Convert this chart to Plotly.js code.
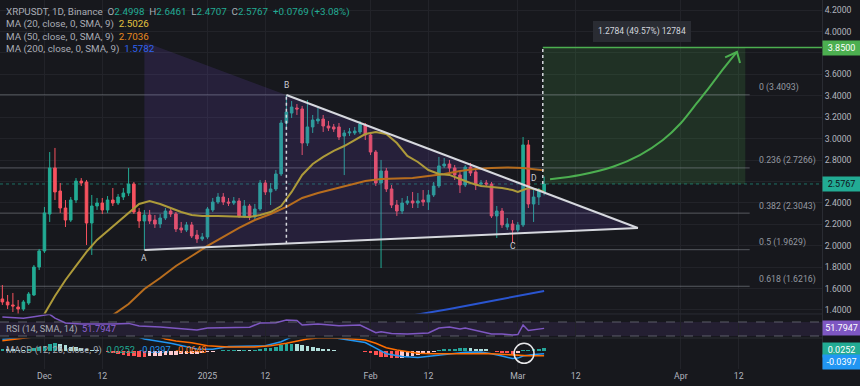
<!DOCTYPE html>
<html><head><meta charset="utf-8">
<script src="https://cdn.plot.ly/plotly-3.0.1.min.js"></script>
<style>body{margin:0;background:#17181d}#chart{width:860px;height:386px}</style>
</head><body><div id="chart"></div>
<script>
// ---------- candle data (XRPUSDT, 1D) ----------
const dates = ['2024-11-23','2024-11-24','2024-11-25','2024-11-26','2024-11-27','2024-11-28','2024-11-29','2024-11-30',
'2024-12-01','2024-12-02','2024-12-03','2024-12-04','2024-12-05','2024-12-06','2024-12-07','2024-12-08','2024-12-09','2024-12-10',
'2024-12-11','2024-12-12','2024-12-13','2024-12-14','2024-12-15','2024-12-16','2024-12-17','2024-12-18','2024-12-19','2024-12-20',
'2024-12-21','2024-12-22','2024-12-23','2024-12-24','2024-12-25','2024-12-26','2024-12-27','2024-12-28','2024-12-29','2024-12-30','2024-12-31',
'2025-01-01','2025-01-02','2025-01-03','2025-01-04','2025-01-05','2025-01-06','2025-01-07','2025-01-08','2025-01-09','2025-01-10',
'2025-01-11','2025-01-12','2025-01-13','2025-01-14','2025-01-15','2025-01-16','2025-01-17','2025-01-18','2025-01-19','2025-01-20',
'2025-01-21','2025-01-22','2025-01-23','2025-01-24','2025-01-25','2025-01-26','2025-01-27','2025-01-28','2025-01-29','2025-01-30','2025-01-31',
'2025-02-01','2025-02-02','2025-02-03','2025-02-04','2025-02-05','2025-02-06','2025-02-07','2025-02-08','2025-02-09','2025-02-10',
'2025-02-11','2025-02-12','2025-02-13','2025-02-14','2025-02-15','2025-02-16','2025-02-17','2025-02-18','2025-02-19','2025-02-20',
'2025-02-21','2025-02-22','2025-02-23','2025-02-24','2025-02-25','2025-02-26','2025-02-27','2025-02-28',
'2025-03-01','2025-03-02','2025-03-03','2025-03-04','2025-03-05','2025-03-06'];

const openP = [1.503,1.475,1.447,1.428,1.409,1.465,1.540,1.801,
1.951,2.296,2.726,2.511,2.352,2.240,2.427,2.604,2.595,2.212,2.371,2.399,2.334,2.427,2.399,2.455,2.492,2.576,2.315,2.231,2.287,2.240,2.203,2.259,2.324,2.296,2.166,2.147,2.194,2.100,2.063,
2.082,2.334,2.408,2.455,2.408,2.399,2.418,2.278,2.371,2.268,2.343,2.586,2.502,2.530,2.670,3.146,3.239,3.286,3.277,2.959,3.109,3.165,3.183,3.118,3.109,3.109,3.025,3.053,3.053,3.062,3.127,
3.034,2.875,2.586,2.698,2.530,2.380,2.324,2.399,2.418,2.399,2.427,2.408,2.474,2.558,2.745,2.763,2.726,2.661,2.567,2.735,2.689,2.576,2.586,2.576,2.278,2.324,2.175,2.203,
2.147,2.194,2.941,2.390,2.455,2.4998];
const highP = [1.633,1.540,1.559,1.493,1.493,1.568,1.820,1.970,
2.362,2.875,2.913,2.586,2.427,2.455,2.632,2.632,2.614,2.474,2.446,2.446,2.464,2.539,2.483,2.539,2.726,2.595,2.352,2.334,2.334,2.287,2.296,2.352,2.352,2.315,2.222,2.222,2.222,2.147,2.119,
2.362,2.446,2.492,2.492,2.446,2.455,2.446,2.427,2.390,2.390,2.614,2.614,2.586,2.707,3.174,3.407,3.351,3.323,3.305,3.361,3.221,3.286,3.221,3.165,3.137,3.146,3.081,3.099,3.109,3.165,3.146,
3.053,2.894,2.801,2.726,2.567,2.427,2.446,2.464,2.502,2.492,2.520,2.520,2.595,2.829,2.819,2.801,2.754,2.689,2.754,2.773,2.707,2.614,2.614,2.595,2.371,2.352,2.259,2.240,
2.222,3.015,2.987,2.539,2.539,2.6461];
const lowP = [1.447,1.409,1.381,1.363,1.391,1.447,1.531,1.773,
1.932,2.222,2.427,2.306,2.175,2.222,2.399,2.558,2.007,1.914,2.334,2.296,2.306,2.371,2.380,2.427,2.464,2.296,2.166,1.960,2.203,2.166,2.166,2.240,2.268,2.128,2.119,2.128,2.072,2.026,2.044,
2.063,2.315,2.390,2.380,2.371,2.380,2.259,2.259,2.240,2.240,2.324,2.474,2.380,2.511,2.651,3.081,3.193,3.221,2.847,2.931,3.053,3.137,3.062,3.071,3.062,2.987,2.660,3.025,3.034,3.043,2.987,
2.847,2.558,1.792,2.502,2.352,2.278,2.296,2.380,2.352,2.352,2.371,2.334,2.455,2.539,2.726,2.689,2.614,2.492,2.548,2.651,2.520,2.558,2.548,2.259,2.072,2.166,2.147,2.026,
2.128,2.175,2.352,2.222,2.380,2.4707];
const closeP = [1.475,1.447,1.437,1.409,1.475,1.549,1.801,1.951,
2.306,2.726,2.502,2.352,2.240,2.427,2.604,2.586,2.212,2.371,2.399,2.334,2.427,2.399,2.455,2.492,2.576,2.315,2.231,2.287,2.231,2.203,2.259,2.324,2.296,2.156,2.147,2.194,2.091,2.063,2.082,
2.343,2.408,2.455,2.408,2.399,2.418,2.278,2.371,2.268,2.343,2.586,2.502,2.530,2.670,3.146,3.249,3.295,3.277,2.959,3.109,3.174,3.183,3.118,3.099,3.090,3.015,3.053,3.062,3.071,3.137,3.034,
2.875,2.586,2.698,2.530,2.380,2.324,2.399,2.418,2.399,2.418,2.408,2.474,2.558,2.745,2.763,2.726,2.661,2.567,2.735,2.679,2.567,2.586,2.576,2.278,2.324,2.194,2.203,2.147,
2.194,2.941,2.390,2.455,2.520,2.5767];

// ---------- moving averages ----------
const ma20Dates = ['2024-11-30','2024-12-01','2024-12-03','2024-12-05','2024-12-07','2024-12-09','2024-12-11','2024-12-13','2024-12-15','2024-12-17','2024-12-19','2024-12-21','2024-12-23','2024-12-25','2024-12-27','2024-12-29','2024-12-31','2025-01-03','2025-01-06','2025-01-09','2025-01-11','2025-01-13','2025-01-15','2025-01-17','2025-01-19','2025-01-21','2025-01-23','2025-01-25','2025-01-27','2025-01-29','2025-01-31','2025-02-02','2025-02-04','2025-02-06','2025-02-08','2025-02-10','2025-02-12','2025-02-14','2025-02-16','2025-02-18','2025-02-20','2025-02-22','2025-02-24','2025-02-26','2025-02-28','2025-03-01','2025-03-02','2025-03-03','2025-03-04','2025-03-05','2025-03-06'];
const ma20Vals = [1.251,1.363,1.531,1.680,1.811,1.942,2.054,2.138,2.222,2.315,2.390,2.418,2.390,2.352,2.315,2.287,2.278,2.278,2.273,2.268,2.287,2.315,2.371,2.502,2.661,2.763,2.829,2.885,2.931,2.987,3.043,3.062,3.043,2.959,2.838,2.782,2.707,2.670,2.661,2.623,2.586,2.558,2.548,2.539,2.520,2.502,2.520,2.539,2.530,2.520,2.5026];
const ma50Dates = ['2024-12-11','2024-12-14','2024-12-17','2024-12-20','2024-12-23','2024-12-26','2024-12-29','2025-01-01','2025-01-04','2025-01-07','2025-01-10','2025-01-13','2025-01-16','2025-01-19','2025-01-22','2025-01-25','2025-01-28','2025-01-31','2025-02-03','2025-02-06','2025-02-09','2025-02-12','2025-02-15','2025-02-18','2025-02-21','2025-02-24','2025-02-27','2025-03-02','2025-03-06'];
const ma50Vals = [1.241,1.353,1.456,1.596,1.699,1.811,1.904,1.998,2.082,2.166,2.240,2.296,2.362,2.446,2.492,2.530,2.567,2.604,2.623,2.628,2.632,2.651,2.670,2.698,2.717,2.726,2.731,2.726,2.7036];
const ma200Dates = ['2025-02-05','2025-02-09','2025-02-16','2025-02-23','2025-03-01','2025-03-06'];
const ma200Vals = [1.316,1.349,1.409,1.475,1.531,1.5782];

// ---------- RSI ----------
const rsiDates = ['2024-11-23','2024-11-25','2024-11-27','2024-11-29','2024-11-30','2024-12-02','2024-12-03','2024-12-05','2024-12-08','2024-12-11','2024-12-14','2024-12-17','2024-12-19','2024-12-23','2024-12-26','2024-12-30','2025-01-01','2025-01-05','2025-01-09','2025-01-11','2025-01-14','2025-01-16','2025-01-18','2025-01-19','2025-01-22','2025-01-26','2025-01-30','2025-02-02','2025-02-03','2025-02-05','2025-02-08','2025-02-12','2025-02-14','2025-02-16','2025-02-18','2025-02-19','2025-02-21','2025-02-24','2025-02-26','2025-02-28','2025-03-01','2025-03-02','2025-03-03','2025-03-05','2025-03-06'];
const rsiVals = [84,83,81,85,87,92,81,67,64,63,64,66,58.6,55.7,51.4,47.1,52.9,54.9,54.9,67.1,68,75.7,74.3,61.4,64.3,59.4,61.4,39.4,42.3,37.1,35.7,38.6,52.9,55.7,50,52.9,45.7,35.7,35.7,32.9,34.3,61.4,45.7,48.6,51.7947];

// ---------- MACD ----------
const macdDates = ['2024-11-23','2024-11-27','2024-12-01','2024-12-05','2024-12-10','2024-12-15','2024-12-20','2024-12-25','2024-12-30','2025-01-02','2025-01-05','2025-01-10','2025-01-12','2025-01-15','2025-01-17','2025-01-20','2025-01-23','2025-01-26','2025-01-28','2025-01-31','2025-02-02','2025-02-04','2025-02-07','2025-02-10','2025-02-13','2025-02-16','2025-02-19','2025-02-22','2025-02-24','2025-02-26','2025-02-28','2025-03-01','2025-03-02','2025-03-04','2025-03-06'];
const macdVals = [0.14,0.16,0.22,0.33,0.33,0.25,0.144,0.09,0.02,0.015,0.05,0.055,0.06,0.11,0.17,0.2,0.185,0.15,0.13,0.1,0.03,-0.04,-0.075,-0.088,-0.065,-0.045,-0.022,-0.02,-0.04,-0.07,-0.1,-0.095,-0.07,-0.05,-0.0397];
const signalDates = ['2024-11-23','2024-11-26','2024-11-29','2024-12-03','2024-12-08','2024-12-14','2024-12-19','2024-12-22','2024-12-24','2024-12-26','2024-12-29','2025-01-01','2025-01-05','2025-01-10','2025-01-13','2025-01-16','2025-01-18','2025-01-20','2025-01-22','2025-01-24','2025-01-26','2025-01-28','2025-01-31','2025-02-02','2025-02-04','2025-02-06','2025-02-08','2025-02-10','2025-02-13','2025-02-17','2025-02-20','2025-02-23','2025-02-26','2025-02-28','2025-03-01','2025-03-03','2025-03-06'];
const signalVals = [0.122,0.142,0.17,0.22,0.28,0.29,0.24,0.19,0.144,0.12,0.0975,0.06,0.045,0.045,0.06,0.09,0.12,0.144,0.155,0.16,0.157,0.148,0.131,0.09,0.035,0.005,-0.018,-0.035,-0.042,-0.045,-0.042,-0.036,-0.045,-0.055,-0.06,-0.066,-0.0648];
const histVals = [0.02,0.018,0.015,0.012,0.01,0.015,0.03,0.045,
0.06,0.085,0.09,0.08,0.065,0.05,0.045,0.035,0.02,0.01,0.005,-0.01,-0.02,-0.03,-0.045,-0.055,-0.065,-0.07,-0.075,-0.078,-0.074,-0.07,-0.065,-0.06,-0.055,-0.05,-0.047,-0.045,-0.042,-0.04,-0.03,
-0.022,-0.015,-0.006,0.004,0.006,0.008,0.006,0.008,0.006,0.009,0.022,0.028,0.034,0.045,0.065,0.08,0.085,0.078,0.065,0.055,0.045,0.035,0.025,0.015,0.006,-0.006,-0.01,-0.012,-0.012,-0.01,-0.02,
-0.035,-0.06,-0.075,-0.085,-0.095,-0.097,-0.088,-0.078,-0.066,-0.052,-0.04,-0.03,-0.018,0.005,0.014,0.02,0.024,0.026,0.03,0.028,0.024,0.02,0.014,-0.01,-0.02,-0.03,-0.036,-0.042,
-0.032,0.004,0.012,0.017,0.021,0.0252];

// ---------- drawings ----------
const fibLevels = ['0','0.236','0.382','0.5','0.618'];
const fibPrices = [3.4093,2.7266,2.3043,1.9629,1.6216];
const pointA = ['2024-12-20',1.960], pointB = ['2025-01-16',3.407], apex = ['2025-03-23 20:00',2.166];
const triTopLeft = ['2024-12-20',3.902];
const lastPrice = 2.5767, targetPrice = 3.85;
const targetStart = '2025-03-05 18:00', targetEnd = '2025-04-13 06:00';
const arrowX = ['2025-03-07 03:00','2025-03-12 20:00','2025-03-19 02:00','2025-03-24 05:00','2025-03-28 14:00','2025-04-01 00:30','2025-04-04 01:30','2025-04-06 08:00','2025-04-08 10:00','2025-04-10 03:00','2025-04-11 16:00'];
const arrowY = [2.620,2.661,2.738,2.847,2.987,3.146,3.333,3.473,3.610,3.716,3.809];
const headX = ['2025-04-09 10:00','2025-04-11 16:00','2025-04-12 06:00'];
const headY = [3.758,3.809,3.706];
const xRange = ['2024-11-22 13:13','2025-04-27 20:00'];
const tickVals = ['2024-12-01','2024-12-12','2025-01-01','2025-01-12','2025-02-01','2025-02-12','2025-03-01','2025-03-12','2025-04-01','2025-04-12'];
const tickText = ['Dec','12','2025','12','Feb','12','Mar','12','Apr','12'];
const priceTicks = [1.4,1.6,1.8,2.0,2.2,2.4,2.6,2.8,3.0,3.2,3.4,3.6,3.8,4.0,4.2];
const hiddenTicks = [2.6,3.8]; // covered by the price boxes

const UP='#22ab94', DN='#f7525f';
const histColors = histVals.map((v,i)=>{const p=i?histVals[i-1]:v; return v>=0?(v>=p?'#26a69a':'#b2dfdb'):(v<p?'#ff5252':'#ffcdd2');});

const traces = [
 {type:'scatter',x:[pointA[0],triTopLeft[0],pointB[0],apex[0],pointA[0]],y:[pointA[1],triTopLeft[1],pointB[1],apex[1],pointA[1]],
  fill:'toself',fillcolor:'rgba(110,80,200,0.17)',line:{width:0},mode:'lines',hoverinfo:'skip'},
 {type:'scatter',x:ma200Dates,y:ma200Vals,mode:'lines',line:{color:'#2a55d0',width:2},hoverinfo:'skip'},
 {type:'scatter',x:ma50Dates,y:ma50Vals,mode:'lines',line:{color:'#b86d1e',width:2},hoverinfo:'skip'},
 {type:'scatter',x:ma20Dates,y:ma20Vals,mode:'lines',line:{color:'#ad9a3a',width:2},hoverinfo:'skip'},
 {type:'candlestick',x:dates,open:openP,high:highP,low:lowP,close:closeP,whiskerwidth:0,
  increasing:{line:{color:UP,width:1},fillcolor:UP},decreasing:{line:{color:DN,width:1},fillcolor:DN},hoverinfo:'skip'},
 {type:'scatter',x:[pointB[0],apex[0]],y:[pointB[1],apex[1]],mode:'lines',line:{color:'#d6d8de',width:2},hoverinfo:'skip'},
 {type:'scatter',x:[pointA[0],apex[0]],y:[pointA[1],apex[1]],mode:'lines',line:{color:'#d6d8de',width:2},hoverinfo:'skip'},
 {type:'scatter',x:arrowX,y:arrowY,mode:'lines',line:{color:'#4caf50',width:2,shape:'spline',smoothing:0.8},hoverinfo:'skip'},
 {type:'scatter',x:headX,y:headY,mode:'lines',line:{color:'#4caf50',width:2},hoverinfo:'skip'},
 {type:'scatter',x:rsiDates,y:rsiVals,xaxis:'x',yaxis:'y2',mode:'lines',line:{color:'#7e57c2',width:1.5},hoverinfo:'skip'},
 {type:'bar',x:dates,y:histVals,xaxis:'x',yaxis:'y3',width:0.7*86400000,marker:{color:histColors,line:{width:0}},hoverinfo:'skip'},
 {type:'scatter',x:macdDates,y:macdVals,xaxis:'x',yaxis:'y3',mode:'lines',line:{color:'#2196f3',width:1.5},hoverinfo:'skip'},
 {type:'scatter',x:signalDates,y:signalVals,xaxis:'x',yaxis:'y3',mode:'lines',line:{color:'#ff6d00',width:1.5},hoverinfo:'skip'}
];

const shapes = [
 {type:'rect',xref:'paper',yref:'y2',x0:0,x1:1,y0:30,y1:70,fillcolor:'rgba(126,87,194,0.13)',line:{width:0},layer:'between'},
 {type:'line',xref:'paper',yref:'y2',x0:0,x1:1,y0:70,y1:70,line:{color:'rgba(120,123,134,0.7)',width:1,dash:'dash'}},
 {type:'line',xref:'paper',yref:'y2',x0:0,x1:1,y0:30,y1:30,line:{color:'rgba(120,123,134,0.7)',width:1,dash:'dash'}},
 {type:'line',xref:'paper',yref:'paper',x0:0,x1:1,y0:0.1491,y1:0.1491,line:{color:'#2a2c33',width:1}},
 {type:'line',xref:'paper',yref:'paper',x0:0,x1:1,y0:0.0840,y1:0.0840,line:{color:'#2a2c33',width:1}},
 {type:'rect',xref:'x',yref:'y',x0:targetStart,x1:targetEnd,y0:lastPrice,y1:targetPrice,fillcolor:'rgba(76,175,80,0.17)',line:{width:0},layer:'between'},
 {type:'line',xref:'x',yref:'y',x0:xRange[0],x1:xRange[1],y0:lastPrice,y1:lastPrice,line:{color:'rgba(34,171,148,0.6)',width:1,dash:'dot'},layer:'between'},
 {type:'line',xref:'x',yref:'y',x0:targetStart,x1:xRange[1],y0:targetPrice,y1:targetPrice,line:{color:'#4caf50',width:1.5}},
 {type:'line',xref:'x',yref:'y',x0:targetStart,x1:targetStart,y0:lastPrice,y1:targetPrice,line:{color:'#d6d8de',width:1.5,dash:'dot'}},
 {type:'line',xref:'x',yref:'y',x0:pointB[0],x1:pointB[0],y0:2.019,y1:pointB[1],line:{color:'#d6d8de',width:1.5,dash:'dot'}},
 {type:'circle',xref:'x',yref:'y3',x0:'2025-02-28 07:00',x1:'2025-03-04 02:00',y0:-0.16,y1:0.09,line:{color:'#e8e8ea',width:1.5}}
];
fibPrices.forEach(p=>shapes.push({type:'line',xref:'x',yref:'y',x0:xRange[0],x1:'2025-04-14 02:00',y0:p,y1:p,
  line:{color:'rgba(150,153,161,0.5)',width:1},layer:'between'}));

const F = "Roboto, 'Open Sans', sans-serif";
const sp = (c,t)=>"<span style='color:"+c+"'>"+t+"</span>";
const N='\u00a0';
const ann = [];
const legend = [
 ["XRPUSDT, 1D, Binance"+N+N+"O"+sp(UP,'2.4998')+N+N+"H"+sp(UP,'2.6461')+N+N+"L"+sp(UP,'2.4707')+N+N+"C"+sp(UP,'2.5767')+N+N+sp(UP,'+0.0769 (+3.08%)'),11.7,9.8],
 ["MA (20, close, 0, SMA, 9)"+N+N+sp('#e3c240','2.5026'),24.2,9.8],
 ["MA (50, close, 0, SMA, 9)"+N+N+sp('#e88a1f','2.7036'),36.5,9.8],
 ["MA (200, close, 0, SMA, 9)"+N+N+sp('#2f63f0','1.5782'),48.7,9.8],
 ["RSI (14, SMA, 14)"+N+N+sp('#8e63d6','51.7947'),329,9.3],
 ["MACD (12, 26, close, 9)"+N+N+sp('#22ab94','0.0252')+N+N+sp('#2196f3','-0.0397')+N+N+sp('#ff6d00','-0.0648'),350,9.3]
];
legend.forEach(([t,py,fs])=>ann.push({xref:'paper',yref:'paper',x:0.005,y:1-py/369,xanchor:'left',yanchor:'middle',showarrow:false,
  text:t,font:{family:F,size:fs,color:'#a9acb5'}}));
fibLevels.forEach((l,i)=>ann.push({xref:'x',yref:'y',x:'2025-04-15 11:00',y:fibPrices[i],xanchor:'left',yanchor:'middle',yshift:7,showarrow:false,
  text:l+' ('+fibPrices[i].toFixed(4)+')',font:{family:F,size:8.7,color:'#9598a1'}}));
[['A',pointA[0],1.886],['B',pointB[0],3.501],['C','2025-02-28',1.998],['D','2025-03-04',2.632]].forEach(([t,x,y])=>ann.push(
  {xref:'x',yref:'y',x:x,y:y,showarrow:false,text:t,font:{family:F,size:8.5,color:'#c9cbd2'}}));
ann.push({xref:'x',yref:'y',x:'2025-03-24 14:00',y:4.0,showarrow:false,text:'1.2784 (49.57%) 12784',
  bgcolor:'#2a2c33',bordercolor:'#2a2c33',borderpad:4,font:{family:F,size:8.5,color:'#d1d4dc'}});
const boxes = [['3.8500','y',targetPrice,'#4caf50','#ffffff'],['2.5767','y',lastPrice,'#22ab94','#10131a'],
  ['51.7947','y2',51.7947,'#7e57c2','#ffffff']];
boxes.forEach(([t,yr,y,bg,fc])=>ann.push({xref:'paper',yref:yr,x:1,y:y,xanchor:'left',yanchor:'middle',showarrow:false,text:t,
  bgcolor:bg,borderpad:2,width:33,font:{family:F,size:9,color:fc}}));
ann.push({xref:'paper',yref:'paper',x:1,y:1-350/369,xanchor:'left',yanchor:'middle',showarrow:false,text:'0.0252',bgcolor:'#22ab94',borderpad:2,width:33,font:{family:F,size:9,color:'#fff'}});
ann.push({xref:'paper',yref:'paper',x:1,y:1-361.5/369,xanchor:'left',yanchor:'middle',showarrow:false,text:'-0.0397',bgcolor:'#2196f3',borderpad:2,width:33,font:{family:F,size:9,color:'#fff'}});

const layout = {
 width:860,height:386,margin:{l:0,r:38,t:0,b:17},
 paper_bgcolor:'#17181d',plot_bgcolor:'#17181d',showlegend:false,
 font:{family:F,size:8.5,color:'#b2b5be'},
 xaxis:{type:'date',range:xRange,anchor:'y3',tickvals:tickVals,ticktext:tickText,showgrid:true,gridcolor:'#222329',
   zeroline:false,showline:false,ticks:'',tickfont:{family:F,size:8.7,color:'#b2b5be'},rangeslider:{visible:false},fixedrange:true},
 yaxis:{domain:[0.1491,1],range:[1.3627,4.2945],side:'right',tickmode:'array',tickvals:priceTicks,
   ticktext:priceTicks.map(v=>hiddenTicks.includes(v)?'':v.toFixed(4)),gridcolor:'#222329',
   zeroline:false,showline:true,linecolor:'#2a2c33',ticks:'',tickfont:{family:F,size:8.7,color:'#b2b5be'},fixedrange:true},
 yaxis2:{domain:[0.0840,0.1491],range:[24.29,92.86],side:'right',showticklabels:false,showgrid:false,zeroline:false,showline:true,linecolor:'#2a2c33',fixedrange:true},
 yaxis3:{domain:[0,0.0840],range:[-0.23125,0.15625],side:'right',showticklabels:false,showgrid:false,zeroline:false,showline:true,linecolor:'#2a2c33',fixedrange:true},
 shapes:shapes,annotations:ann,bargap:0
};
Plotly.newPlot('chart',traces,layout,{staticPlot:true,displayModeBar:false});
</script></body></html>
